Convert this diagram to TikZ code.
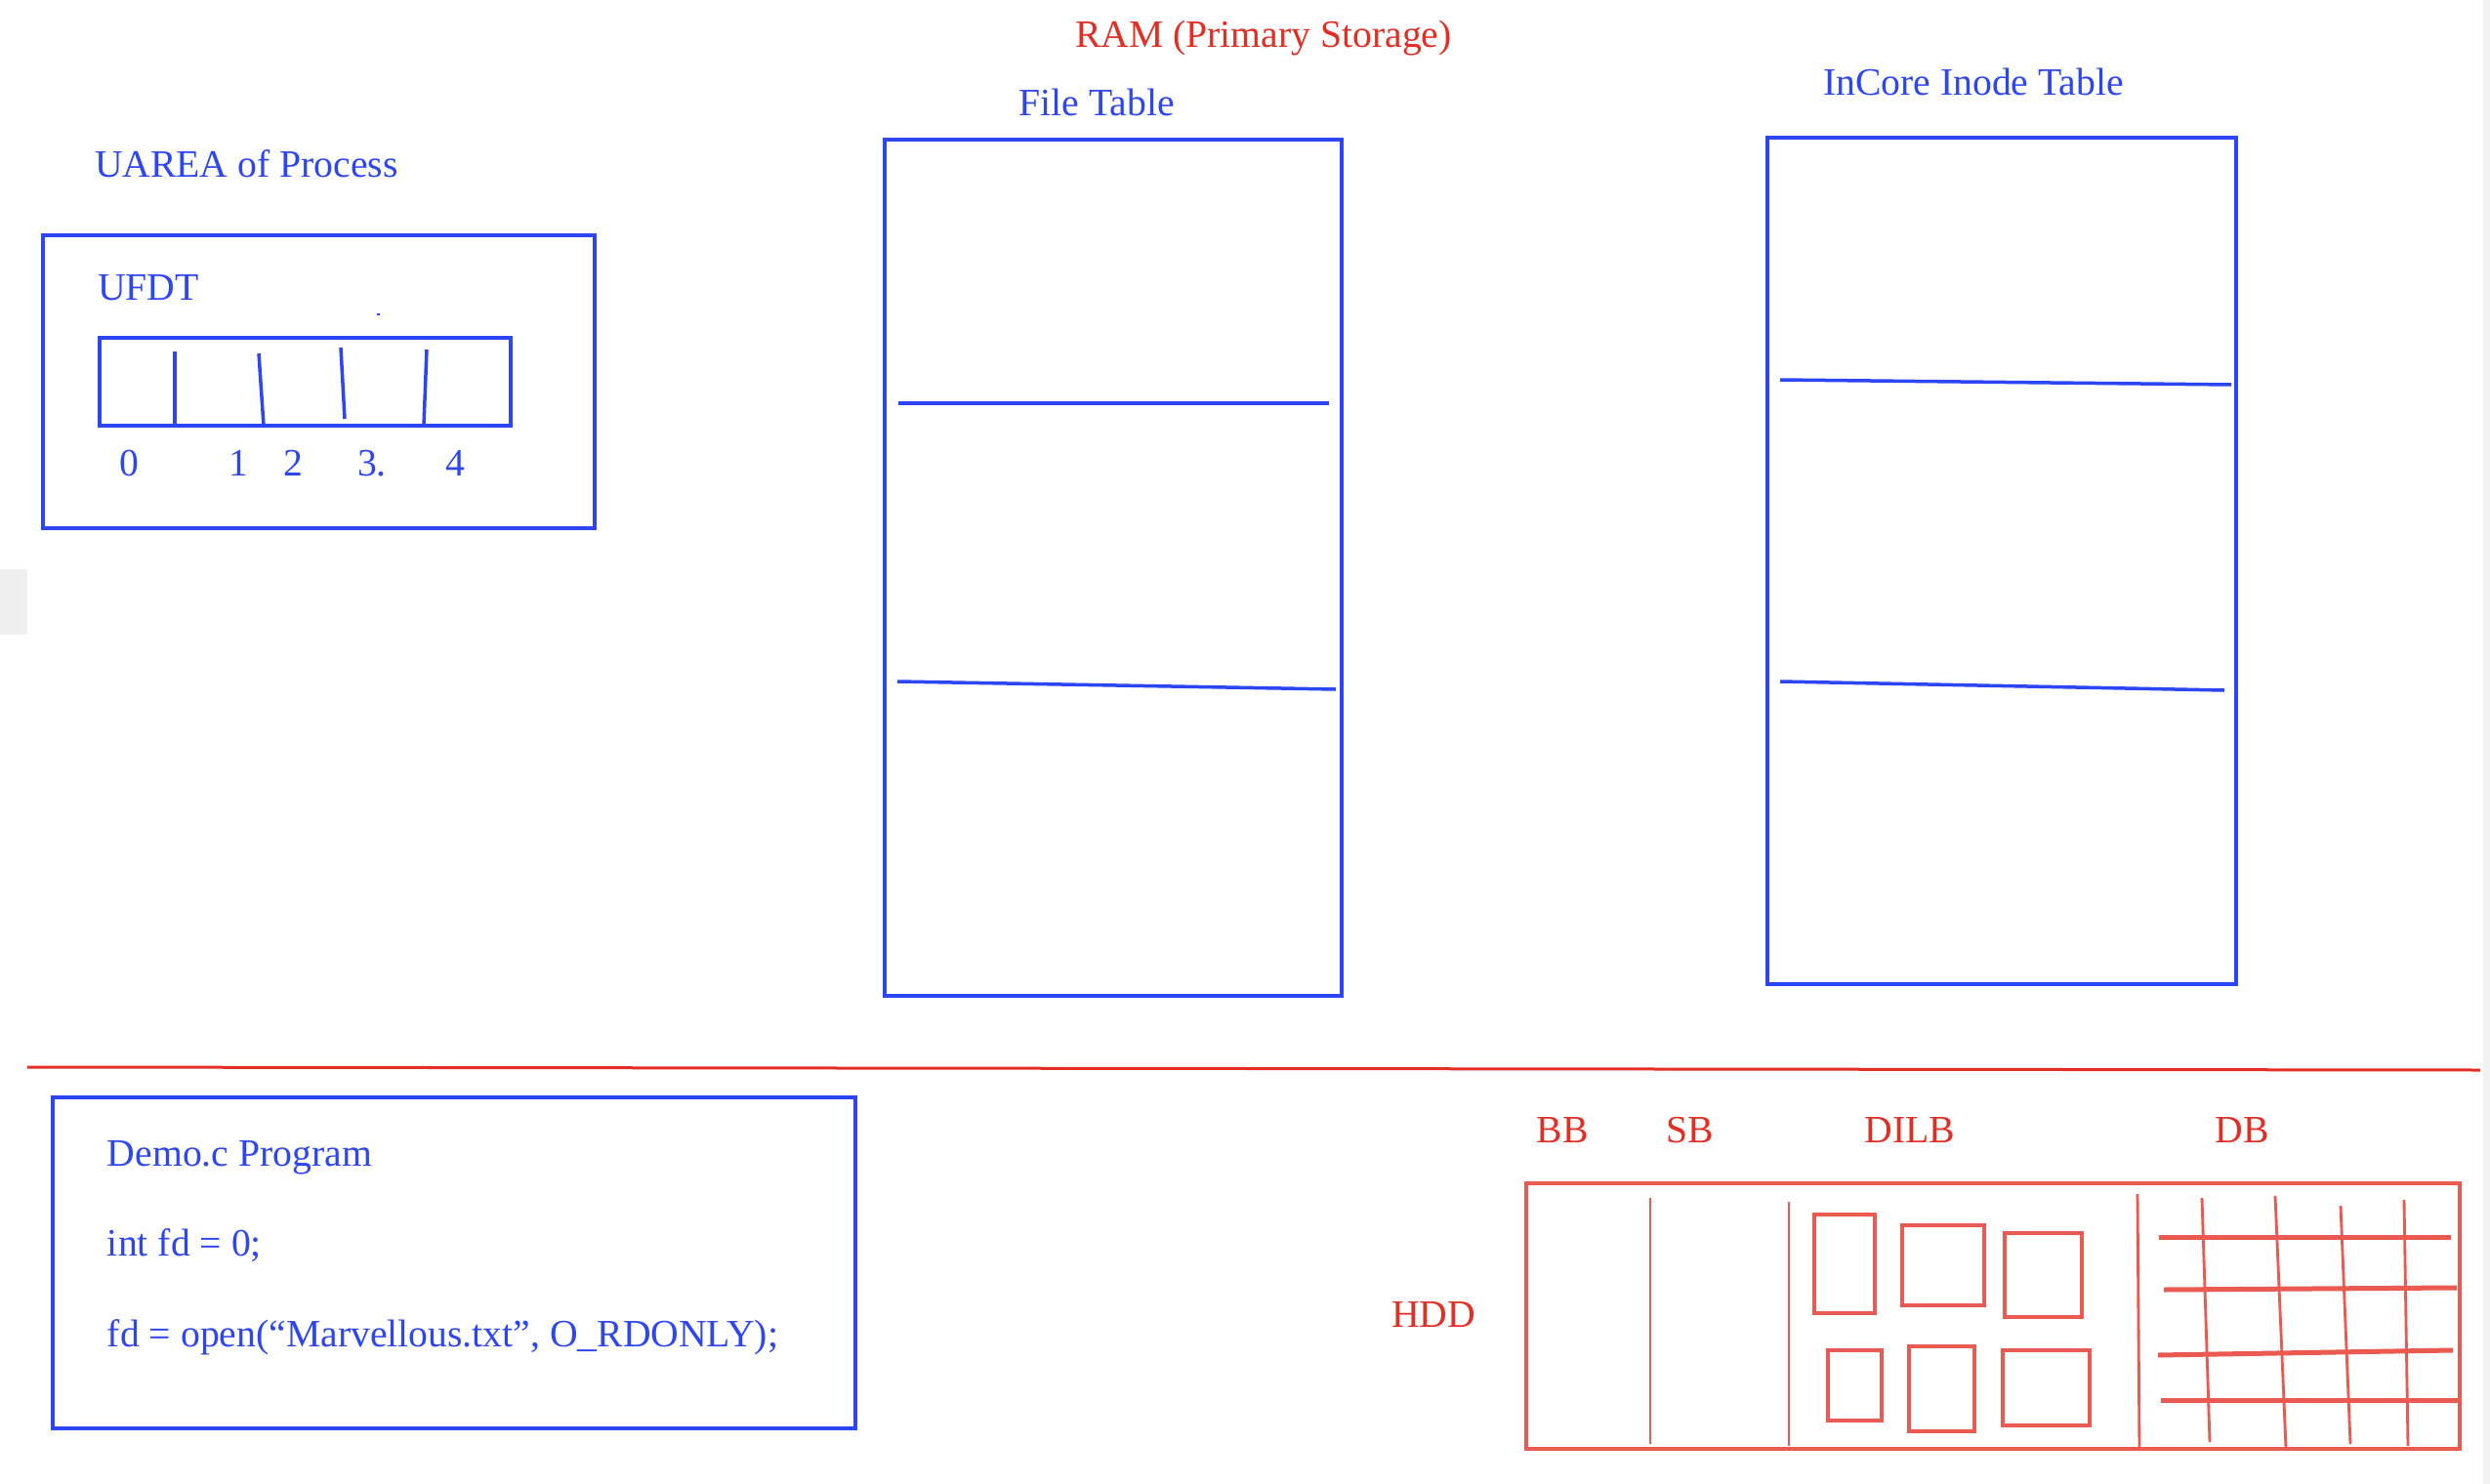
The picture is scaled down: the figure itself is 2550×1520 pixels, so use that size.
\documentclass[tikz,border=0pt]{standalone}
\usepackage{fontspec}
\setmainfont{Liberation Serif}
\definecolor{ublue}{RGB}{45,70,245}
\definecolor{ured}{RGB}{228,45,35}
\definecolor{lred}{RGB}{235,90,80}
\begin{document}
\begin{tikzpicture}[x=0.3pt,y=-0.3pt,
 lbl/.style={inner sep=0pt,outer sep=0pt,font=\fontsize{11.9}{14}\selectfont},
 bl/.style={lbl,text=ublue},
 rd/.style={lbl,text=ured},
 bbox/.style={draw=ublue,line width=1.2pt},
 bline/.style={draw=ublue,line width=1.05pt},
 rbox/.style={draw=lred,line width=1.2pt},
 rline/.style={draw=lred,line width=0.85pt},
 rthick/.style={draw=lred,line width=1.5pt}]
\fill[white] (0,0) rectangle (2550,1520);
\useasboundingbox (0,0) rectangle (2550,1520);
% page artefacts
\fill[black!6] (0,583) rectangle (28,650);
\fill[black!5] (2543,0) rectangle (2550,1520);
% titles
\node[rd,anchor=base] (ram) at (1294,49) {RAM (Primary Storage)};
\node[bl,anchor=base] (ftt) at (1123,119) {File Table};
\node[bl,anchor=base] (itt) at (2021,98) {InCore Inode Table};
\node[bl,anchor=base west] (ua) at (97,182) {UAREA of Process};
% UFDT
\draw[bbox] (44,241) rectangle (609,541);
\node[bl,anchor=base west] (ufdt) at (100,307) {UFDT};
\fill[ublue] (386,321) rectangle (389,323);
\draw[bbox] (102,346) rectangle (523,436);
\draw[bline] (179,360) -- (179,436);
\draw[bline] (265,362) -- (270,436);
\draw[bline] (349,356) -- (353,429);
\draw[bline] (437,358) -- (434,436);
\node[bl,anchor=base] (d0) at (132,487) {0};
\node[bl,anchor=base] (d1) at (244,487) {1};
\node[bl,anchor=base] (d2) at (300,487) {2};
\node[bl,anchor=base] (d3) at (381,487) {3.};
\node[bl,anchor=base] (d4) at (466,487) {4};
% File Table
\draw[bbox] (906,143) rectangle (1374,1020);
\draw[bline] (920,413) -- (1361,413);
\draw[bline] (919,698) -- (1368,706);
% Inode table
\draw[bbox] (1810,141) rectangle (2290,1008);
\draw[bline] (1823,389) -- (2285,394);
\draw[bline] (1823,698) -- (2278,707);
% separator
\draw[draw=ured,line width=0.9pt] (28,1093) -- (2540,1096);
% Demo program
\draw[bbox] (54,1124) rectangle (876,1463);
\node[bl,anchor=base west] (demo) at (110,1194) {Demo.c Program};
\node[bl,anchor=base west] (intfd) at (110,1286) {int fd = 0;};
\node[bl,anchor=base west] (openl) at (110,1379) {fd = open(“Marvellous.txt”, O\_RDONLY);};
% HDD
\node[rd,anchor=base] (hdd) at (1468,1359) {HDD};
\node[rd,anchor=base] (bb) at (1600,1170) {BB};
\node[rd,anchor=base] (sb) at (1731,1170) {SB};
\node[rd,anchor=base] (dilb) at (1956,1170) {DILB};
\node[rd,anchor=base] (db) at (2296,1170) {DB};
\draw[rbox] (1563,1212) rectangle (2519,1484);
\draw[rline] (1690,1227) -- (1690,1479);
\draw[rline] (1832,1231) -- (1832,1481);
\draw[rline] (2189,1223) -- (2191,1486);
% DILB blocks
\draw[rbox] (1858,1244) rectangle (1920,1345);
\draw[rbox] (1948,1255) rectangle (2032,1337);
\draw[rbox] (2053,1263) rectangle (2132,1349);
\draw[rbox] (1872,1383) rectangle (1927,1455);
\draw[rbox] (1955,1379) rectangle (2022,1466);
\draw[rbox] (2051,1383) rectangle (2140,1460);
% DB grid
\draw[rline] (2255,1227) -- (2263,1477);
\draw[rline] (2330,1225) -- (2341,1483);
\draw[rline] (2397,1235) -- (2407,1479);
\draw[rline] (2462,1229) -- (2466,1481);
\draw[rthick] (2211,1267) -- (2510,1267);
\draw[rthick] (2216,1321) -- (2516,1319);
\draw[rthick] (2210,1388) -- (2512,1383);
\draw[rthick] (2213,1434) -- (2519,1434);
\end{tikzpicture}
\end{document}
